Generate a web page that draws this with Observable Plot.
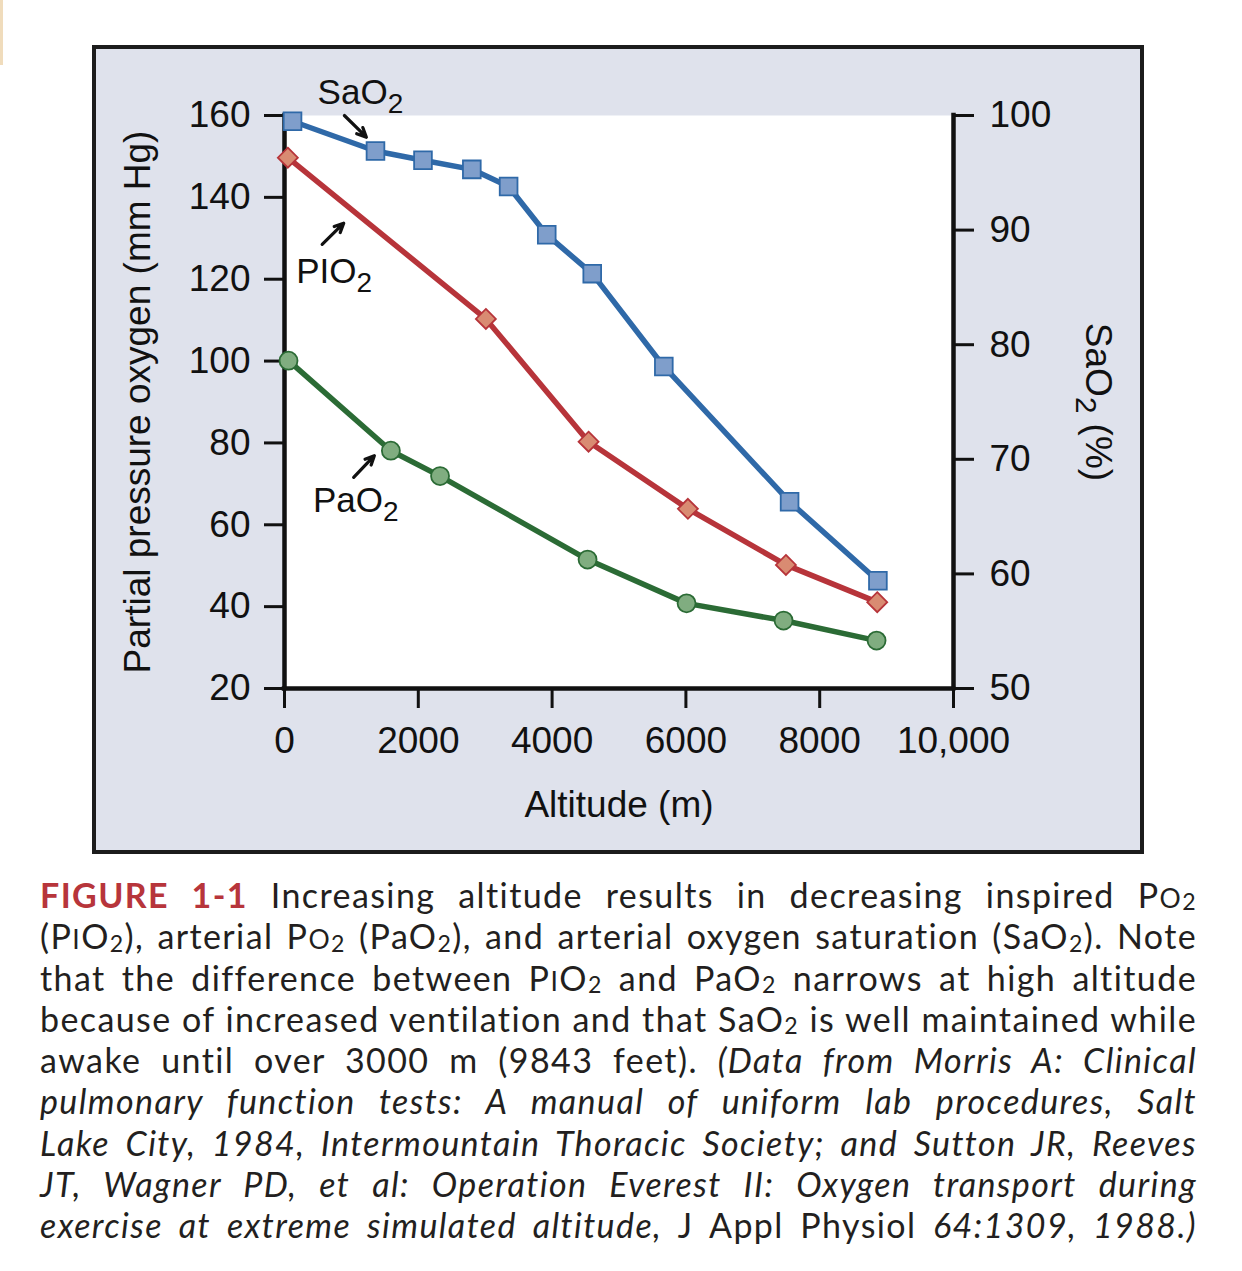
<!DOCTYPE html>
<html>
<head>
<meta charset="utf-8">
<script src="https://cdn.jsdelivr.net/npm/d3@7"></script>
<script src="https://cdn.jsdelivr.net/npm/@observablehq/plot@0.6"></script>
<style>
  html, body { margin: 0; padding: 0; background: #ffffff; }
  body { width: 1242px; height: 1271px; position: relative; overflow: hidden; }
  #strip { position: absolute; left: 0; top: 0; width: 3px; height: 65px; background: #f0dcbc; }
  #panel { position: absolute; left: 92px; top: 45px; width: 1052px; height: 809px; box-sizing: border-box;
           border: 4px solid #1c1c1c; background: #dfe2ec; }
  #panel svg { display: block; }
  #caption { position: absolute; left: 40px; top: 874px; width: 1157px; font-family: Lato, "Open Sans", sans-serif;
             font-size: 34px; line-height: 41.25px; color: #231f20; }
  #caption .ln { height: 41.25px; text-align: justify; text-align-last: justify; white-space: nowrap; }
  #caption .fig { color: #b7353b; font-weight: 700; }
  #caption sub { font-size: 0.68em; line-height: 0; vertical-align: baseline; position: relative; top: 0.1em; }
  #caption .sc { font-size: 0.78em; }
  #caption i { font-style: italic; }
</style>
</head>
<body>
<div id="strip"></div>
<div id="panel"></div>
<div id="caption">
  <div class="ln"><span class="fig">FIGURE 1-1</span> Increasing altitude results in decreasing inspired P<span class="sc">O</span><sub>2</sub></div>
  <div class="ln">(P<span class="sc">I</span>O<sub>2</sub>), arterial P<span class="sc">O</span><sub>2</sub> (PaO<sub>2</sub>), and arterial oxygen saturation (SaO<sub>2</sub>). Note</div>
  <div class="ln">that the difference between P<span class="sc">I</span>O<sub>2</sub> and PaO<sub>2</sub> narrows at high altitude</div>
  <div class="ln" id="tight">because of increased ventilation and that SaO<sub>2</sub> is well maintained while</div>
  <div class="ln">awake until over 3000&nbsp;m (9843 feet). <i>(Data from Morris A: Clinical</i></div>
  <div class="ln"><i>pulmonary function tests: A manual of uniform lab procedures, Salt</i></div>
  <div class="ln"><i>Lake City, 1984, Intermountain Thoracic Society; and Sutton JR, Reeves</i></div>
  <div class="ln"><i>JT, Wagner PD, et al: Operation Everest II: Oxygen transport during</i></div>
  <div class="ln"><i>exercise at extreme simulated altitude,</i> J Appl Physiol <i>64:1309, 1988.)</i></div>
</div>
<script>
// ---- Data ----
const altSa = [120, 1360, 2070, 2800, 3350, 3920, 4600, 5670, 7550, 8870];
const sao2  = [99.5, 96.9, 96.1, 95.3, 93.8, 89.6, 86.2, 78.1, 66.3, 59.4];
const altPi = [50, 3010, 4545, 6030, 7495, 8860];
const pio2  = [149.7, 110.3, 80.3, 63.9, 50.2, 41.1];
const altPa = [60, 1590, 2325, 4530, 6010, 7460, 8850];
const pao2  = [100.1, 78.1, 71.9, 51.5, 40.8, 36.6, 31.7];
const leftTicks  = [20, 40, 60, 80, 100, 120, 140, 160];
const rightTicks = [50, 60, 70, 80, 90, 100];
const xTicks     = [0, 2000, 4000, 6000, 8000, 10000];
const xTickLabels = ["0", "2000", "4000", "6000", "8000", "10,000"];
const annLabels = ["SaO₂", "PIO₂", "PaO₂"];
const annX = [495, 175, 425];
const annY = [162.9, 119.0, 63.1];
const arrowX1 = [895, 563, 1034], arrowY1 = [160.0, 128.5, 71.6];
const arrowX2 = [1224, 885, 1343], arrowY2 = [154.7, 133.7, 76.9];

// SaO2 (%) 50..100 mapped onto the mm Hg scale 20..160
const toMm = s => 20 + (s - 50) * 2.8;
const fromMm = m => Math.round(50 + (m - 20) / 2.8);

const sa = altSa.map((a, i) => ({x: a, y: toMm(sao2[i])}));
const pi = altPi.map((a, i) => ({x: a, y: pio2[i]}));
const pa = altPa.map((a, i) => ({x: a, y: pao2[i]}));
const ann = annLabels.map((t, i) => ({t, x: annX[i], y: annY[i]}));
const arrows = arrowX1.map((x1, i) => ({x1, y1: arrowY1[i], x2: arrowX2[i], y2: arrowY2[i]}));

const blue = "#2f69a8", blueFill = "#7f9ecb";
const red = "#b7343a", redFill = "#d98b72";
const green = "#2b6b35", greenFill = "#80ad80";

const chart = Plot.plot({
  width: 1044,
  height: 801,
  marginLeft: 188,
  marginRight: 187,
  marginTop: 66,
  marginBottom: 162,
  style: {fontFamily: "'Liberation Sans', Arial, sans-serif", fontSize: "36px", background: "transparent", color: "#111", overflow: "visible"},
  x: {domain: [0, 10000]},
  y: {domain: [20, 160]},
  marks: [
    Plot.frame({fill: "white", stroke: "none"}),
    Plot.axisY(leftTicks, {anchor: "left", tickSize: 20, tickPadding: 14, strokeWidth: 3, fontSize: 37, label: null}),
    Plot.axisY(rightTicks.map(toMm), {anchor: "right", tickSize: 20, tickPadding: 16, strokeWidth: 3, fontSize: 37, label: null, tickFormat: fromMm}),
    Plot.axisX(xTicks, {anchor: "bottom", tickSize: 20, tickPadding: 18, strokeWidth: 3, fontSize: 37, label: null,
      tickFormat: d => xTickLabels[xTicks.indexOf(d)]}),
    Plot.ruleX([0, 10000], {stroke: "#111", strokeWidth: 4.5, strokeLinecap: "square"}),
    Plot.ruleY([20], {stroke: "#111", strokeWidth: 4.5, strokeLinecap: "square"}),
    Plot.line(pa, {x: "x", y: "y", stroke: green, strokeWidth: 5.5}),
    Plot.line(pi, {x: "x", y: "y", stroke: red, strokeWidth: 5.5}),
    Plot.line(sa, {x: "x", y: "y", stroke: blue, strokeWidth: 5.5}),
    Plot.dot(pa, {x: "x", y: "y", r: 9, symbol: "circle", fill: greenFill, stroke: green, strokeWidth: 1.8}),
    Plot.dot(pi, {x: "x", y: "y", r: 9, symbol: "diamond2", fill: redFill, stroke: red, strokeWidth: 1.8}),
    Plot.dot(sa, {x: "x", y: "y", r: 10, symbol: "square", fill: blueFill, stroke: blue, strokeWidth: 1.8}),
    Plot.text(ann, {x: "x", y: "y", text: "t", textAnchor: "start", lineAnchor: "bottom", fontSize: 35, fill: "#111"}),
    Plot.arrow(arrows, {x1: "x1", y1: "y1", x2: "x2", y2: "y2", stroke: "#111", strokeWidth: 3.2, headLength: 12, headAngle: 50}),
    Plot.text(["Partial pressure oxygen (mm Hg)"], {frameAnchor: "left", dx: -146, rotate: -90, textAnchor: "middle", lineAnchor: "middle", fontSize: 37, fill: "#111"}),
    Plot.text(["SaO₂ (%)"], {frameAnchor: "right", dx: 144, rotate: 90, textAnchor: "middle", lineAnchor: "middle", fontSize: 37, fill: "#111"}),
    Plot.text(["Altitude (m)"], {frameAnchor: "bottom", dy: 117, lineAnchor: "middle", fontSize: 37, fill: "#111"})
  ]
});

// render the "₂" as a real lowered, smaller "2"
function subify(root) {
  const ns = "http://www.w3.org/2000/svg";
  const walker = document.createTreeWalker(root, NodeFilter.SHOW_TEXT);
  const nodes = [];
  while (walker.nextNode()) if (walker.currentNode.nodeValue.includes("₂")) nodes.push(walker.currentNode);
  for (const n of nodes) {
    const parts = n.nodeValue.split("₂");
    const frag = document.createDocumentFragment();
    parts.forEach((p, i) => {
      if (i > 0) {
        const s = document.createElementNS(ns, "tspan");
        s.setAttribute("dy", "0.32em");
        s.setAttribute("font-size", "80%");
        s.textContent = "2";
        frag.appendChild(s);
        if (p.length) {
          const b = document.createElementNS(ns, "tspan");
          b.setAttribute("dy", "-0.256em");
          b.textContent = p;
          frag.appendChild(b);
        }
      } else if (p.length) {
        frag.appendChild(document.createTextNode(p));
      }
    });
    n.parentNode.replaceChild(frag, n);
  }
}
subify(chart);
document.getElementById("panel").appendChild(chart);

// fit the caption: letter-spacing so the tightest line just fills the measure
(function fitCaption() {
  const cap = document.getElementById("caption");
  const tight = document.getElementById("tight");
  const probe = tight.cloneNode(true);
  probe.removeAttribute("id");
  probe.style.cssText = "position:absolute;visibility:hidden;white-space:nowrap;text-align:left;text-align-last:auto;width:auto;display:inline-block;";
  cap.appendChild(probe);
  const w = probe.getBoundingClientRect().width;
  const n = tight.textContent.replace(/\s+/g, " ").trim().length;
  cap.removeChild(probe);
  const ls = Math.max(0, (1157 - w - 2) / n);
  cap.style.letterSpacing = ls.toFixed(2) + "px";
})();
</script>
</body>
</html>
